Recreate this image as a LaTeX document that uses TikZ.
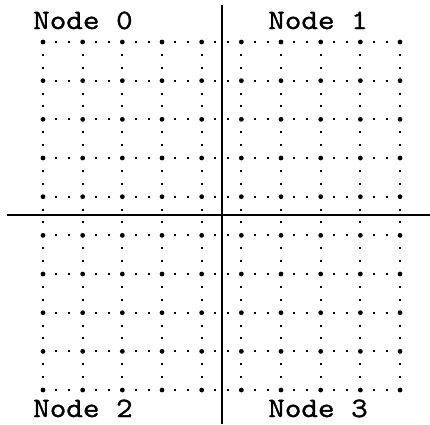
\documentclass[tikz,border=0pt]{standalone}
\usepackage{fontspec}
\newfontfamily\nodefont[FakeStretch=1.15, FakeBold=1.2]{Latin Modern Mono}

\begin{document}
\begin{tikzpicture}[x=1pt, y=-1pt, every node/.style={font=\nodefont\fontsize{28}{28}\selectfont, inner sep=0pt}]
\useasboundingbox (0,0) rectangle (430,424);
% dotted grid lines
\foreach \j in {0,...,9}
  \draw[line width=1.8pt, dash pattern=on 2pt off 11.22pt, dash phase=1pt] (43,{42+38.67*\j}) -- (400,{42+38.67*\j});
\foreach \i in {0,...,9}
  \draw[line width=1.8pt, dash pattern=on 2pt off 10.89pt, dash phase=1pt] ({43+39.67*\i},42) -- ({43+39.67*\i},390);
% grid points
\foreach \i in {0,...,9}
  \foreach \j in {0,...,9}
    \fill ({43+39.67*\i},{42+38.67*\j}) circle (2.4pt);
% partition
\draw[line width=1.6pt] (222,5) -- (222,424);
\draw[line width=1.6pt] (7,215) -- (430,215);
% labels
\node[anchor=base west] (node0) at (33,29) {Node 0};
\node[anchor=base] (node1) at (318,29) {Node 1};
\node[anchor=base west] (node2) at (33,417) {Node 2};
\node[anchor=base] (node3) at (318,417) {Node 3};
\end{tikzpicture}
\end{document}
